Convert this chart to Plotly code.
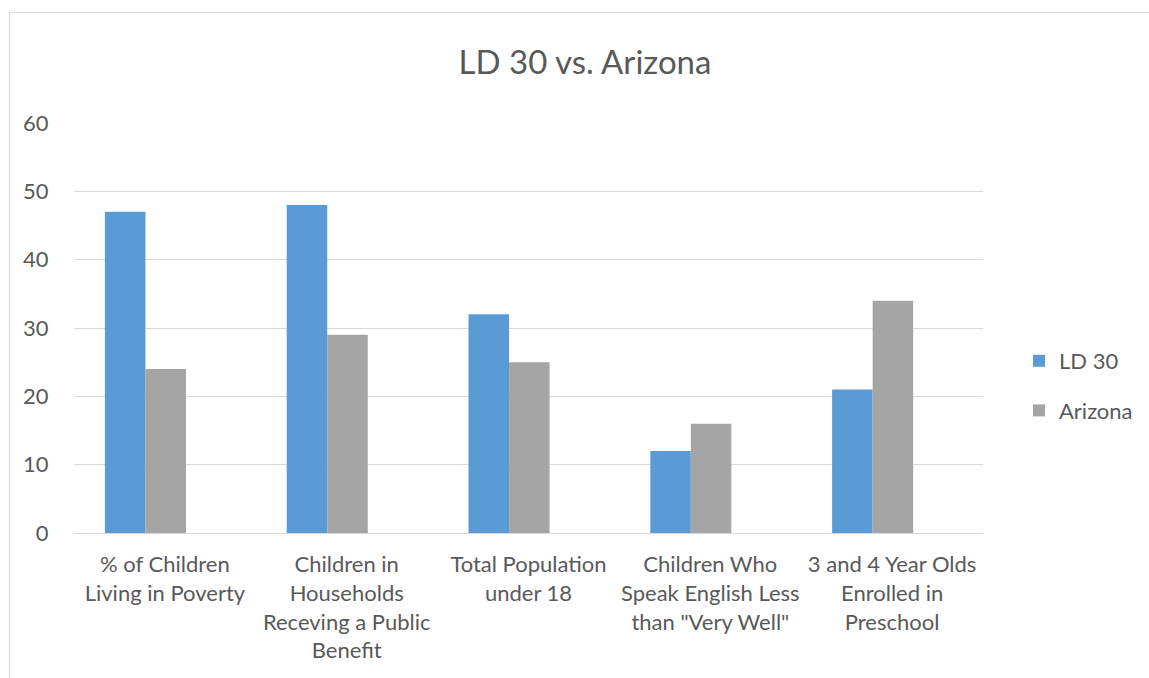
import plotly.graph_objects as go

categories = [
    "% of Children<br>Living in Poverty",
    "Children in<br>Households<br>Receving a Public<br>Benefit",
    "Total Population<br>under 18",
    "Children Who<br>Speak English Less<br>than \"Very Well\"",
    "3 and 4 Year Olds<br>Enrolled in<br>Preschool",
]
ld30 = [47, 48, 32, 12, 21]
arizona = [24, 29, 25, 16, 34]
y_ticks = [0, 10, 20, 30, 40, 50, 60]

FONT = "Lato"
TEXT = "#595959"
GRID = "#D9D9D9"

W, H = 1149, 678
ML, MR, MT, MB = 74, 166, 123, 145
plot_w = W - ML - MR
plot_h = H - MT - MB

fig = go.Figure()
fig.add_trace(go.Bar(
    x=categories, y=ld30, name="LD 30",
    marker=dict(color="#5B9BD5", line=dict(width=0)),
    offset=-0.33, width=0.223, legendgroup="a",
))
fig.add_trace(go.Bar(
    x=categories, y=arizona, name="Arizona",
    marker=dict(color="#A5A5A5", line=dict(width=0)),
    offset=-0.107, width=0.223, legendgroup="b",
))

# outer chart frame
bx = (9.5 - ML) / plot_w
by = (H - MB - 12.5) / plot_h
fig.add_shape(type="rect", xref="paper", yref="paper",
              x0=bx, x1=3, y0=-3, y1=by,
              line=dict(color=GRID, width=1.2), fillcolor="rgba(0,0,0,0)",
              layer="below")

fig.update_layout(
    width=W, height=H,
    margin=dict(l=ML, r=MR, t=MT, b=MB, autoexpand=False),
    paper_bgcolor="white", plot_bgcolor="white",
    font=dict(family=FONT, color=TEXT, size=22),
    title=dict(text="LD 30 vs. Arizona", x=585 / W, xanchor="center",
               y=1 - 62 / H, yanchor="middle", yref="container",
               font=dict(family=FONT, size=33, color=TEXT)),
    barmode="group",
    showlegend=True,
    legend=dict(xref="container", x=1019 / W, xanchor="left",
                yref="container", y=1 - 340 / H, yanchor="top",
                font=dict(family=FONT, size=22, color=TEXT),
                tracegroupgap=18, itemwidth=30, bgcolor="rgba(0,0,0,0)"),
    xaxis=dict(showgrid=False, showline=False, zeroline=False,
               ticks="outside", ticklen=12, tickcolor="rgba(0,0,0,0)",
               tickfont=dict(family=FONT, size=22, color=TEXT),
               tickangle=0),
    yaxis=dict(range=[0, 60], tickvals=y_ticks, showgrid=True,
               gridcolor=GRID, gridwidth=1.3, zeroline=True,
               zerolinecolor=GRID, zerolinewidth=1.3, showline=False,
               ticks="outside", ticklen=20, tickcolor="rgba(0,0,0,0)",
               tickfont=dict(family=FONT, size=22, color=TEXT)),
)

fig.write_html("out.html")
